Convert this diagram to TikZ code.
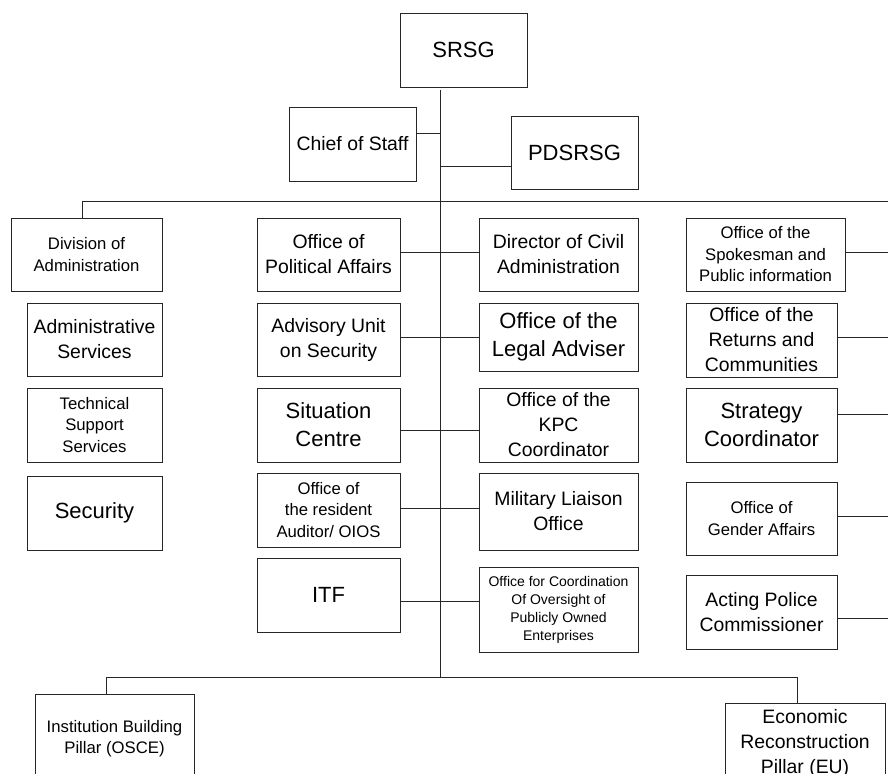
\documentclass[tikz,border=0pt]{standalone}
\usepackage{fontspec}
\setmainfont{Liberation Sans}
\begin{document}
\begin{tikzpicture}[x=1pt,y=-1pt,
  box/.style={draw=black!85, line width=0.8pt, inner sep=0pt, align=center, text=black},
  fa/.style={font=\fontsize{22}{28}\selectfont},
  fb/.style={font=\fontsize{19.4}{25}\selectfont},
  fc/.style={font=\fontsize{16.7}{21.5}\selectfont},
  fd/.style={font=\fontsize{14}{18}\selectfont},
  conn/.style={draw=black!85, line width=0.8pt}]
\useasboundingbox (0,0) rectangle (888,773);
\clip (0,0) rectangle (888,773);

% top
\node[box,fa,minimum width=127pt,minimum height=74pt] (srsg) at (463.5,50) {SRSG};
\node[box,fb,minimum width=127pt,minimum height=74pt] (chief) at (352.5,144) {Chief of Staff};
\node[box,fa,minimum width=127pt,minimum height=73pt] (pds) at (574.5,152.5) {PDSRSG};

% left column
\node[box,fc,minimum width=151pt,minimum height=73pt] (div) at (86.5,254.5) {Division of\\Administration};
\node[box,fb,minimum width=135pt,minimum height=73pt] (adm) at (94.5,339.5) {Administrative\\Services};
\node[box,fc,minimum width=135pt,minimum height=74pt] (tech) at (94.5,425) {Technical\\Support\\Services};
\node[box,fa,minimum width=135pt,minimum height=74pt] (sec) at (94.5,513) {Security};

% centre-left column
\node[box,fb,minimum width=143pt,minimum height=73pt] (pol) at (328.5,254.5) {Office of\\Political Affairs};
\node[box,fb,minimum width=143pt,minimum height=73pt] (adv) at (328.5,339.5) {Advisory Unit\\on Security};
\node[box,fa,minimum width=143pt,minimum height=74pt] (sit) at (328.5,425) {Situation\\Centre};
\node[box,fc,minimum width=143pt,minimum height=74pt] (aud) at (328.5,510) {Office of\\the resident\\Auditor/ OIOS};
\node[box,fa,minimum width=143pt,minimum height=74pt] (itf) at (328.5,595) {ITF};

% centre-right column
\node[box,fb,minimum width=159pt,minimum height=73pt] (dir) at (558.5,254.5) {Director of Civil\\Administration};
\node[box,fa,minimum width=159pt,minimum height=68pt] (leg) at (558.5,337) {Office of the\\Legal Adviser};
\node[box,fb,minimum width=159pt,minimum height=74pt] (kpc) at (558.5,425) {Office of the\\KPC\\Coordinator};
\node[box,fb,minimum width=159pt,minimum height=77pt] (mil) at (558.5,511.5) {Military Liaison\\Office};
\node[box,fd,minimum width=159pt,minimum height=85pt] (oco) at (558.5,609.5) {Office for Coordination\\Of Oversight of\\Publicly Owned\\Enterprises};

% right column
\node[box,fc,minimum width=159pt,minimum height=73pt] (spk) at (765.5,254.5) {Office of the\\Spokesman and\\Public information};
\node[box,fb,minimum width=151pt,minimum height=74pt] (ret) at (761.5,340) {Office of the\\Returns and\\Communities};
\node[box,fa,minimum width=151pt,minimum height=74pt] (str) at (761.5,425) {Strategy\\Coordinator};
\node[box,fc,minimum width=151pt,minimum height=73pt] (gen) at (761.5,518.5) {Office of\\Gender Affairs};
\node[box,fb,minimum width=151pt,minimum height=74pt] (pol2) at (761.5,612) {Acting Police\\Commissioner};

% bottom pillars
\node[box,fc,minimum width=159pt,minimum height=89pt] (inst) at (114.5,738.5) {Institution Building\\Pillar (OSCE)};
\node[box,fb,minimum width=160pt,minimum height=80pt] (eco) at (805,743) {Economic\\Reconstruction\\Pillar (EU)};

% spine coordinates
\coordinate (sTop) at (440,90);
\coordinate (sChief) at (440,133);
\coordinate (sPds) at (440,166.7);
\coordinate (sBus) at (440,201);
\coordinate (r1) at (440,252);
\coordinate (r2) at (440,337);
\coordinate (r3) at (440,430);
\coordinate (r4) at (440,508);
\coordinate (r5) at (440,601);
\coordinate (sBot) at (440,677);
\coordinate (busL) at (82,201);
\coordinate (busR) at (892,201);
\coordinate (botL) at (106,677);
\coordinate (botR) at (797,677);
\coordinate (e1) at (892,252);
\coordinate (e2) at (892,337);
\coordinate (e3) at (892,414);
\coordinate (e4) at (892,516);
\coordinate (e5) at (892,618);

% spine
\draw[conn] (sTop) -- (sBot);
\draw[conn] (chief.east |- sChief) -- (sChief);
\draw[conn] (sPds) -- (pds.west |- sPds);
% top bus
\draw[conn] (busL) -- (busR);
\draw[conn] (busL) -- (div.north -| busL);
% rows
\draw[conn] (pol.east |- r1) -- (dir.west |- r1);
\draw[conn] (adv.east |- r2) -- (leg.west |- r2);
\draw[conn] (sit.east |- r3) -- (kpc.west |- r3);
\draw[conn] (aud.east |- r4) -- (mil.west |- r4);
\draw[conn] (itf.east |- r5) -- (oco.west |- r5);
% right column
\draw[conn] (spk.east |- e1) -- (e1);
\draw[conn] (ret.east |- e2) -- (e2);
\draw[conn] (str.east |- e3) -- (e3);
\draw[conn] (gen.east |- e4) -- (e4);
\draw[conn] (pol2.east |- e5) -- (e5);
% bottom bus
\draw[conn] (botL) -- (botR);
\draw[conn] (botL) -- (inst.north -| botL);
\draw[conn] (botR) -- (eco.north -| botR);
\end{tikzpicture}
\end{document}
